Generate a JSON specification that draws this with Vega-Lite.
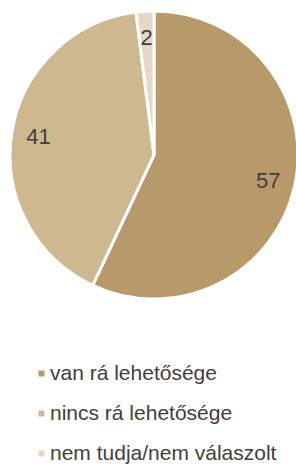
{
  "$schema": "https://vega.github.io/schema/vega-lite/v6.json",
  "width": 296,
  "height": 310,
  "autosize": {"type": "none"},
  "padding": {"left": 6, "top": 0, "right": 0, "bottom": 154},
  "background": "white",
  "config": {"view": {"stroke": null}},
  "data": {"values": [
    {"cat": "van rá lehetősége", "value": 57, "ord": 1},
    {"cat": "nincs rá lehetősége", "value": 41, "ord": 2},
    {"cat": "nem tudja/nem válaszolt", "value": 2, "ord": 3}
  ]},
  "encoding": {
    "theta": {"field": "value", "type": "quantitative", "stack": true},
    "order": {"field": "ord", "type": "quantitative"}
  },
  "layer": [
    {
      "mark": {"type": "arc", "outerRadius": 144, "stroke": "white", "strokeWidth": 3},
      "encoding": {
        "color": {
          "field": "cat", "type": "nominal",
          "scale": {
            "domain": ["van rá lehetősége", "nincs rá lehetősége", "nem tudja/nem válaszolt"],
            "range": ["#b8996a", "#cdb88f", "#e3d9c6"]
          },
          "legend": {
            "title": null,
            "orient": "none",
            "legendX": 25,
            "legendY": 363,
            "symbolType": "square",
            "symbolSize": 36,
            "symbolStrokeWidth": 0,
            "labelFont": "Liberation Sans",
            "labelFontSize": 21,
            "labelColor": "#404040",
            "labelOffset": -2,
            "rowPadding": 18,
            "labelLimit": 300
          }
        }
      }
    },
    {
      "mark": {"type": "text", "radius": 117, "font": "Liberation Sans", "fontSize": 22, "color": "#404040"},
      "encoding": {"text": {"field": "value", "type": "quantitative"}}
    }
  ]
}
